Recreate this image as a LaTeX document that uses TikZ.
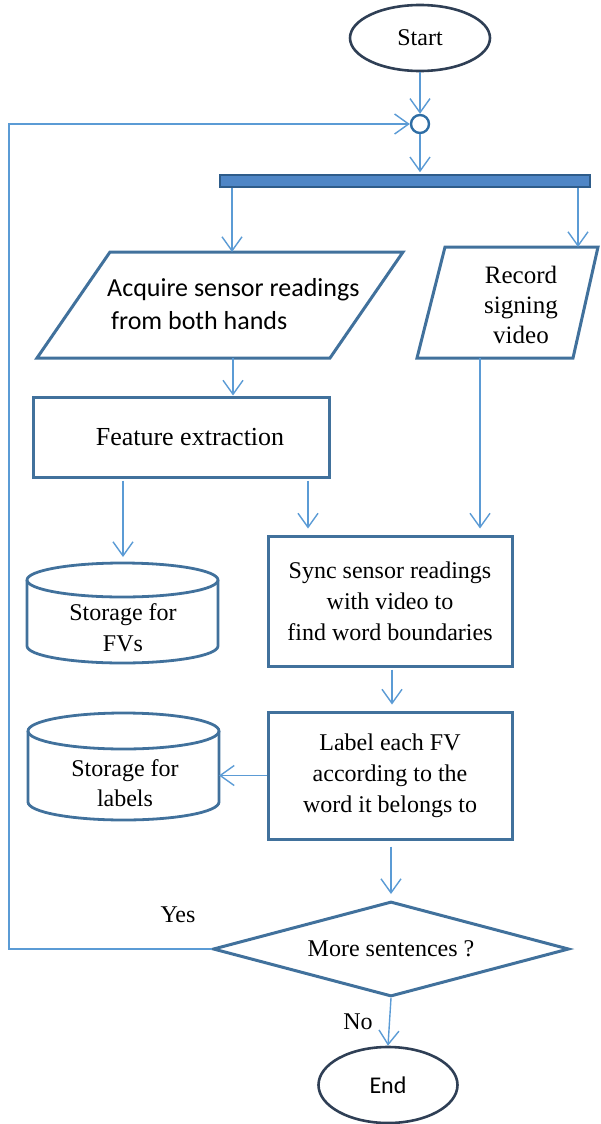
\documentclass[tikz,border=0pt]{standalone}
\usepackage{fontspec}
\setmainfont{Liberation Serif}
\newfontfamily\timesfont{Liberation Serif}
\newfontfamily\carlito{Carlito}
\usetikzlibrary{arrows.meta,shapes.geometric}
\definecolor{flowline}{HTML}{5B9BD5}
\definecolor{boxedge}{HTML}{41719C}
\definecolor{termedge}{HTML}{2F3F55}
\definecolor{joinedge}{HTML}{2E6DA4}
\definecolor{barfill}{HTML}{4F86C6}
\definecolor{baredge}{HTML}{2E5C8A}

\begin{document}
\begin{tikzpicture}[x=1pt,y=-1pt,
  flow/.style={draw=flowline,line width=1.4pt,-{Straight Barb[length=14pt,width=20pt]}},
  procbox/.style={draw=boxedge,line width=3pt,rectangle,inner sep=0pt,align=center,
    font=\timesfont\fontsize{24}{31}\selectfont},
  ioshape/.style={draw=boxedge,line width=3pt},
  store/.style={draw=boxedge,line width=2.8pt},
  term/.style={draw=termedge,line width=2.6pt,ellipse,inner sep=0pt},
  txt/.style={inner sep=0pt,align=center,font=\timesfont\fontsize{24}{31}\selectfont},
]
\useasboundingbox (0,0) rectangle (601,1124);

% start, join point and fork bar
\node[term,minimum width=140pt,minimum height=66pt,font=\timesfont\fontsize{24}{28}\selectfont] (start) at (420,38) {Start};
\node[circle,draw=joinedge,line width=2.4pt,minimum size=18pt,inner sep=0pt] (join) at (420,124) {};
\node[rectangle,fill=barfill,draw=baredge,line width=1.5pt,minimum width=370pt,minimum height=12pt,inner sep=0pt] (fork) at (405,181) {};

% input: sensor readings
\draw[ioshape] (110,252) -- (403,252) -- (330,358) -- (37,358) -- cycle;
\coordinate (acqIn) at (232,252);
\coordinate (acqOut) at (233,358);
\node[inner sep=0pt,align=left,anchor=west,font=\carlito\fontsize{26}{33}\selectfont] (acq) at (107,304)
  {Acquire sensor readings\\\hspace*{4pt}from both hands};

% input: video
\draw[ioshape] (445,247) -- (598,247) -- (573,358) -- (417,358) -- cycle;
\coordinate (recIn) at (578,247);
\coordinate (recOut) at (480,358);
\node[txt,font=\timesfont\fontsize{25}{30}\selectfont] (rec) at (521,305) {Record\\signing\\video};

% processing boxes
\node[procbox,minimum width=296pt,minimum height=80pt,font=\timesfont\fontsize{26}{31}\selectfont] (feat) at (181,437)
  {\hspace*{18pt}Feature extraction};
\node[procbox,minimum width=244pt,minimum height=130pt] (sync) at (390,601)
  {Sync sensor readings\\with video to\\find word boundaries};
\node[procbox,minimum width=244pt,minimum height=127pt] (lab) at (390,775.5)
  {Label each FV\\according to the\\word it belongs to};
\coordinate (syncIn) at ([xshift=-82pt]sync.north);

% storage for feature vectors
\draw[store] (122.5,580) ellipse[x radius=95.5,y radius=17];
\draw[store] (27,580) -- (27,646) arc[start angle=180,end angle=0,x radius=95.5,y radius=17] -- (218,580);
\coordinate (fvsTop) at (123,563);
\node[txt] (fvs) at (123,627.5) {Storage for\\FVs};

% storage for labels
\draw[store] (123.5,731) ellipse[x radius=95.5,y radius=18];
\draw[store] (28,731) -- (28,802) arc[start angle=180,end angle=0,x radius=95.5,y radius=18] -- (219,731);
\coordinate (labsRight) at (219,777);
\node[txt,font=\timesfont\fontsize{24}{30}\selectfont] (labs) at (125,783) {Storage for\\labels};

% decision and end
\node[diamond,draw=boxedge,line width=3pt,aspect=3.75,minimum width=356pt,minimum height=95pt,inner sep=0pt,
  font=\timesfont\fontsize{24}{28}\selectfont] (dec) at (391,949) {More sentences ?};
\node[term,minimum width=139pt,minimum height=76pt,font=\carlito\fontsize{24}{28}\selectfont] (end) at (388,1085) {End};

\coordinate (loopX) at (9,0);
\node[txt] (yes) at (178,915) {Yes};
\node[txt] (no) at (358,1022) {No};

% connectors
\draw[flow] (start) -- (join);
\draw[flow,shorten >=2pt] (join.south) -- (join.south |- fork.north);
\draw[flow] (fork.south -| acqIn) -- (acqIn);
\draw[flow] (fork.south -| recIn) -- (recIn);
\draw[flow] (acqOut) -- (acqOut |- feat.north);
\draw[flow,shorten >=6pt] (recOut) -- (recOut |- sync.north);
\draw[flow,shorten >=6pt,shorten <=2pt] (feat.south -| fvsTop) -- (fvsTop);
\draw[flow,shorten >=6pt,shorten <=2pt] (feat.south -| syncIn) -- (syncIn);
\draw[flow,shorten >=6pt,shorten <=2pt] ([xshift=2pt]sync.south) -- ([xshift=2pt]lab.north);
\draw[flow] (lab.west) -- (lab.west -| labsRight);
\draw[flow,shorten >=6pt,shorten <=6pt] (lab.south -| dec.north) -- (dec.north);
\draw[flow] (dec.west) -- (dec.west -| loopX) -- (loopX |- join.west) -- (join.west);
\draw[flow] (dec.south) -- (end.north);
\end{tikzpicture}
\end{document}
